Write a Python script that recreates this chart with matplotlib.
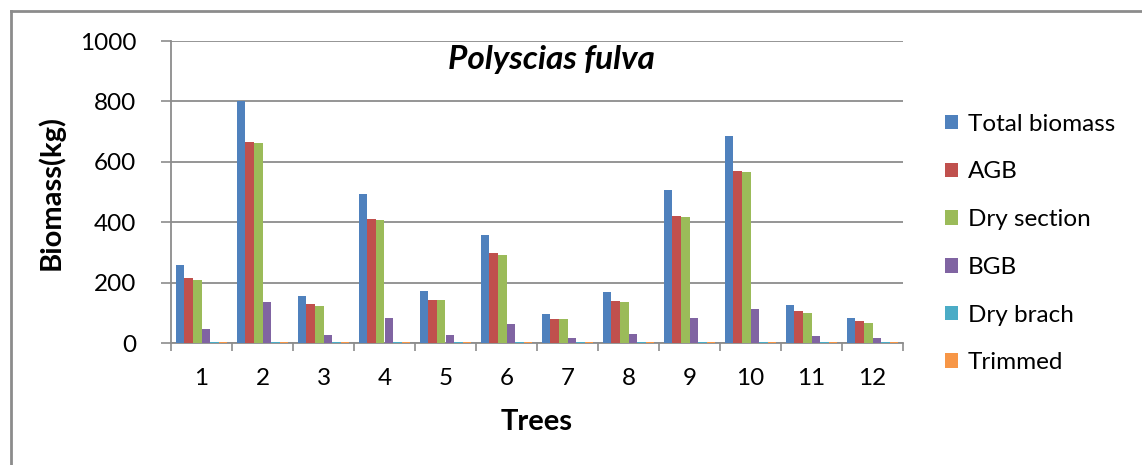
import matplotlib.pyplot as plt
from matplotlib.lines import Line2D
import numpy as np

plt.rcParams['font.family'] = ['Lato', 'DejaVu Sans']

# data
trees = [1, 2, 3, 4, 5, 6, 7, 8, 9, 10, 11, 12]
total_biomass = [258, 800, 156, 493, 173, 357, 96, 169, 506, 684, 126, 84]
agb = [215, 667, 130, 412, 144, 297, 80, 139, 421, 570, 106, 72]
dry_section = [208, 663, 122, 407, 144, 293, 80, 135, 416, 566, 100, 66]
bgb = [46, 135, 28, 84, 28, 62, 16, 29, 84, 114, 24, 16]
dry_brach = [4, 4, 4, 4, 4, 4, 4, 4, 4, 4, 4, 4]
trimmed = [4, 4, 4, 4, 4, 4, 4, 4, 4, 4, 4, 4]

series = [total_biomass, agb, dry_section, bgb, dry_brach, trimmed]
names = ['Total biomass', 'AGB', 'Dry section', 'BGB', 'Dry brach', 'Trimmed']
colors = ['#4F81BD', '#C0504D', '#9BBB59', '#8064A2', '#4BACC6', '#F79646']

fig = plt.figure(figsize=(11.42, 4.65), dpi=100)
ax = fig.add_axes([171/1142, 1-343/465, (903-171)/1142, (343-41)/465])

x = np.arange(len(trees))
w = 0.142
for i, (vals, nm, c) in enumerate(zip(series, names, colors)):
    ax.bar(x + (i - 2.5) * w, vals, width=w, color=c, label=nm, zorder=3)

ax.set_xlim(-0.5, len(trees) - 0.5)
ax.set_ylim(0, 1000)
ax.set_yticks([0, 200, 400, 600, 800, 1000])
ax.grid(axis='y', color='#8c8c8c', linewidth=1.3, zorder=0)

ax.set_xticks(x)
ax.set_xticklabels([str(t) for t in trees])
ax.set_xticks(np.arange(-0.5, len(trees)), minor=True)
ax.tick_params(axis='x', which='major', length=0, pad=18, labelsize=17.5)
ax.tick_params(axis='x', which='minor', length=6, color='#8c8c8c', width=1.2)
ax.tick_params(axis='y', length=7, color='#8c8c8c', width=1.2, pad=18, labelsize=17.5)

for s in ['top', 'right']:
    ax.spines[s].set_visible(False)
for s in ['left', 'bottom']:
    ax.spines[s].set_color('#8c8c8c')
    ax.spines[s].set_linewidth(1.3)

ax.set_ylabel('Biomass(kg)', fontsize=21, fontweight='bold')
ax.yaxis.set_label_coords(-0.145, 0.5)
fig.text(537/1142, 1-422/465, 'Trees', fontsize=21, fontweight='bold',
         ha='center', va='center')
fig.text(551/1142, 1-60/465, 'Polyscias fulva', fontsize=24, fontweight='bold',
         style='italic', ha='center', va='center')

fig.legend(loc='upper left', bbox_to_anchor=(935/1142, 1-104/465), frameon=False,
           fontsize=17.5, handlelength=0.55, handleheight=0.55, handletextpad=0.4,
           labelspacing=1.1, borderaxespad=0)

# chart border
fig.add_artist(Line2D([11/1142, 11/1142], [0, 1-11/465], color='#8c8c8c', lw=2))
fig.add_artist(Line2D([11/1142, 1], [1-11/465, 1-11/465], color='#8c8c8c', lw=2))

fig.savefig('out.png', dpi=100)
